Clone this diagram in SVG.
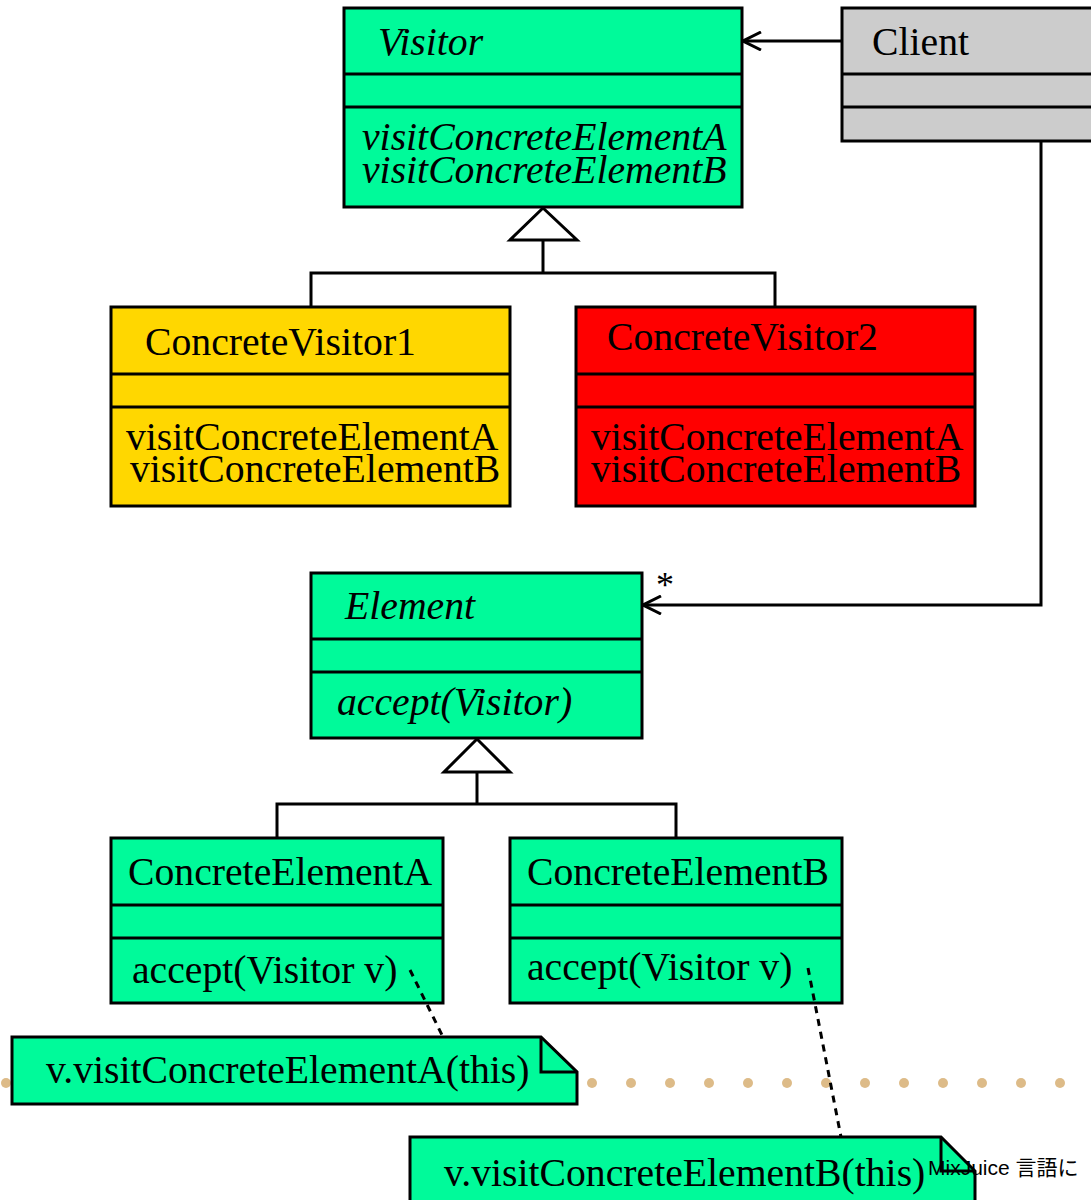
<svg xmlns="http://www.w3.org/2000/svg" width="1091" height="1200" viewBox="0 0 1091 1200">
<defs>
<style>
.box{stroke:#000;stroke-width:3}
.g{fill:#00FA9A}
.t{font-family:"Liberation Serif","Times New Roman",serif;font-size:39.7px;fill:#000}
.i{font-style:italic}
.ln{fill:none;stroke:#000;stroke-width:3}
.dash{fill:none;stroke:#000;stroke-width:3;stroke-dasharray:7,6}
.tri{fill:#fff;stroke:#000;stroke-width:3}
.dot{fill:#DDBB88}
</style>
<marker id="open" viewBox="0 0 20 20" refX="19" refY="10" markerWidth="20" markerHeight="20" markerUnits="userSpaceOnUse" orient="auto">
<path d="M1,1 L19,10 L1,19" fill="none" stroke="#000" stroke-width="3"/>
</marker>
</defs>
<g id="dots">
<circle class="dot" cx="6" cy="1083" r="5"/>
<circle class="dot" cx="592" cy="1083" r="5"/>
<circle class="dot" cx="631" cy="1083" r="5"/>
<circle class="dot" cx="670" cy="1083" r="5"/>
<circle class="dot" cx="709" cy="1083" r="5"/>
<circle class="dot" cx="748" cy="1083" r="5"/>
<circle class="dot" cx="787" cy="1083" r="5"/>
<circle class="dot" cx="826" cy="1083" r="5"/>
<circle class="dot" cx="865" cy="1083" r="5"/>
<circle class="dot" cx="904" cy="1083" r="5"/>
<circle class="dot" cx="943" cy="1083" r="5"/>
<circle class="dot" cx="982" cy="1083" r="5"/>
<circle class="dot" cx="1021" cy="1083" r="5"/>
<circle class="dot" cx="1060" cy="1083" r="5"/>
</g>
<g id="Visitor">
<rect class="box g" x="344" y="8" width="398" height="199"/>
<line class="ln" x1="344" y1="74" x2="742" y2="74"/>
<line class="ln" x1="344" y1="107" x2="742" y2="107"/>
<text class="t i" x="378" y="55">Visitor</text>
<text class="t i" x="362" y="150">visitConcreteElementA</text>
<text class="t i" x="362" y="183">visitConcreteElementB</text>
</g>
<g id="Client">
<rect class="box" fill="#CCCCCC" x="842" y="8" width="260" height="133"/>
<line class="ln" x1="842" y1="74" x2="1102" y2="74"/>
<line class="ln" x1="842" y1="107" x2="1102" y2="107"/>
<text class="t" x="872" y="55">Client</text>
</g>
<g id="ConcreteVisitor1">
<rect class="box" fill="#FFD700" x="111" y="307" width="399" height="199"/>
<line class="ln" x1="111" y1="374" x2="510" y2="374"/>
<line class="ln" x1="111" y1="407" x2="510" y2="407"/>
<text class="t" x="145" y="355">ConcreteVisitor1</text>
<text class="t" x="126" y="450">visitConcreteElementA</text>
<text class="t" x="130" y="482">visitConcreteElementB</text>
</g>
<g id="ConcreteVisitor2">
<rect class="box" fill="#FF0000" x="576" y="307" width="399" height="199"/>
<line class="ln" x1="576" y1="374" x2="975" y2="374"/>
<line class="ln" x1="576" y1="407" x2="975" y2="407"/>
<text class="t" x="607" y="350">ConcreteVisitor2</text>
<text class="t" x="591" y="450">visitConcreteElementA</text>
<text class="t" x="591" y="482">visitConcreteElementB</text>
</g>
<g id="Element">
<rect class="box g" x="311" y="573" width="331" height="165"/>
<line class="ln" x1="311" y1="639" x2="642" y2="639"/>
<line class="ln" x1="311" y1="672" x2="642" y2="672"/>
<text class="t i" x="345" y="619">Element</text>
<text class="t i" x="337" y="715">accept(Visitor)</text>
</g>
<g id="ConcreteElementA">
<rect class="box g" x="111" y="838" width="332" height="165"/>
<line class="ln" x1="111" y1="905" x2="443" y2="905"/>
<line class="ln" x1="111" y1="938" x2="443" y2="938"/>
<text class="t" x="128" y="885">ConcreteElementA</text>
<text class="t" x="132" y="983">accept(Visitor v)</text>
</g>
<g id="ConcreteElementB">
<rect class="box g" x="510" y="838" width="332" height="165"/>
<line class="ln" x1="510" y1="905" x2="842" y2="905"/>
<line class="ln" x1="510" y1="938" x2="842" y2="938"/>
<text class="t" x="527" y="885">ConcreteElementB</text>
<text class="t" x="527" y="980">accept(Visitor v)</text>
</g>
<g id="connectors">
<line class="ln" x1="842" y1="41" x2="743" y2="41" marker-end="url(#open)"/>
<polyline class="ln" points="1041,141 1041,605 643,605" marker-end="url(#open)"/>
<text class="t" x="656" y="597" style="font-size:36px">*</text>
<polyline class="ln" points="311,307 311,273 775,273 775,307"/>
<line class="ln" x1="543" y1="273" x2="543" y2="240"/>
<polygon class="tri" points="543,208 510,240 577,240"/>
<polyline class="ln" points="277,838 277,804 676,804 676,838"/>
<line class="ln" x1="477" y1="804" x2="477" y2="772"/>
<polygon class="tri" points="477,739 444,772 510,772"/>
<line class="dash" x1="410" y1="970" x2="443" y2="1037"/>
<line class="dash" x1="808" y1="968" x2="841" y2="1137"/>
</g>
<g id="NoteA">
<path class="box g" d="M12,1037 L541,1037 L577,1072 L577,1104 L12,1104 Z"/>
<polyline class="ln" points="541,1037 541,1072 577,1072"/>
<text class="t" x="46" y="1083">v.visitConcreteElementA(this)</text>
</g>
<g id="NoteB">
<path class="box g" d="M410,1137 L941,1137 L975,1171 L975,1210 L410,1210 Z"/>
<polyline class="ln" points="941,1137 941,1171 975,1171"/>
<text class="t" x="444" y="1186">v.visitConcreteElementB(this)</text>
</g>
<text x="928" y="1175" style="font-family:'Liberation Sans','Noto Sans CJK JP',sans-serif;font-size:21px;fill:#000">MixJuice 言語に</text>
</svg>
